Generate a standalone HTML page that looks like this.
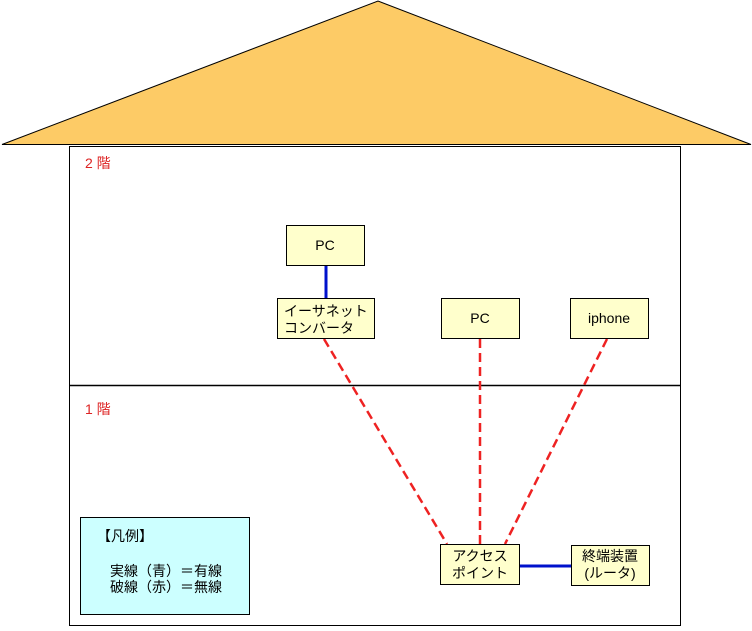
<!DOCTYPE html>
<html><head><meta charset="utf-8"><style>
html,body{margin:0;padding:0;background:#fff;}
svg text{font-family:"Liberation Sans","Noto Sans CJK JP",sans-serif;font-size:14px;fill:#000;}
</style></head><body>
<svg width="752" height="626" viewBox="0 0 752 626" xmlns="http://www.w3.org/2000/svg">
<polygon points="2,144.5 378,1 751,144.5" fill="#fdcb66" stroke="#000" stroke-width="1"/>
<rect x="69.5" y="146.5" width="611" height="479" fill="#fff" stroke="#000" stroke-width="1"/>
<line x1="69" y1="385.5" x2="681" y2="385.5" stroke="#000" stroke-width="1.5"/>
<text x="85" y="168" style="fill:#d22">2 階</text>
<text x="85" y="414" style="fill:#d22">1 階</text>
<g stroke="#e22" stroke-width="2.5" stroke-dasharray="9,5" fill="none">
<line x1="324" y1="339" x2="447" y2="544"/>
<line x1="480" y1="339" x2="480" y2="544"/>
<line x1="607" y1="339" x2="505" y2="544"/>
</g>
<line x1="326" y1="265" x2="326" y2="298" stroke="#0011cc" stroke-width="3"/>
<line x1="519" y1="566" x2="571" y2="566" stroke="#0011cc" stroke-width="3"/>
<g fill="#ffffcc" stroke="#000" stroke-width="1">
<rect x="286.5" y="225.5" width="78" height="40"/>
<rect x="277.5" y="298.5" width="97" height="40"/>
<rect x="441.5" y="298.5" width="78" height="40"/>
<rect x="570.5" y="298.5" width="78" height="40"/>
<rect x="440.5" y="544.5" width="79" height="40"/>
<rect x="571.5" y="545.5" width="78" height="40"/>
</g>
<rect x="80.5" y="517.5" width="169" height="97" fill="#ccffff" stroke="#000" stroke-width="1"/>
<text x="325" y="250" text-anchor="middle">PC</text>
<text x="284" y="316">イーサネット</text>
<text x="284" y="333">コンバータ</text>
<text x="480" y="323" text-anchor="middle">PC</text>
<text x="609" y="323" text-anchor="middle">iphone</text>
<text x="480" y="561" text-anchor="middle">アクセス</text>
<text x="480" y="578" text-anchor="middle">ポイント</text>
<text x="610" y="561" text-anchor="middle">終端装置</text>
<text x="610" y="578" text-anchor="middle">(ルータ)</text>
<text x="97" y="541">【凡例】</text>
<text x="110" y="576">実線（青）＝有線</text>
<text x="110" y="592">破線（赤）＝無線</text>
</svg>
</body></html>
